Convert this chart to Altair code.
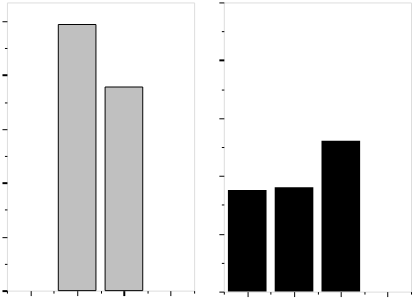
import altair as alt
import pandas as pd

# data
left_pos = [3, 5]
left_vals = [9.88, 7.56]
right_pos = [1, 3, 5]
right_vals = [3.51, 3.61, 5.22]
x_ticks = list(range(0, 9))
y_ticks = list(range(0, 11))

left_df = pd.DataFrame({"pos": left_pos, "val": left_vals})
right_df = pd.DataFrame({"pos": right_pos, "val": right_vals})


def make_axis(values, thick_test, long_test):
    return alt.Axis(
        values=values, labels=False, title=None, domain=False, grid=False,
        ticks=True, tickColor="black",
        tickSize={"condition": {"test": long_test, "value": 5}, "value": 2.5},
        tickWidth={"condition": {"test": thick_test, "value": 2}, "value": 1},
    )


left = alt.Chart(left_df).mark_bar(
    size=38, color="#c0c0c0", stroke="black", strokeWidth=1
).encode(
    x=alt.X("pos:Q", scale=alt.Scale(domain=[0, 8], nice=False, padding=0),
            axis=make_axis(x_ticks, "datum.value === 5", "datum.value % 2 === 1")),
    y=alt.Y("val:Q", scale=alt.Scale(domain=[0, 10.7], nice=False, padding=0),
            axis=make_axis(y_ticks, "datum.value % 4 === 0", "datum.value % 2 === 0")),
).properties(width=189, height=291)

right = alt.Chart(right_df).mark_bar(
    size=39, color="black"
).encode(
    x=alt.X("pos:Q", scale=alt.Scale(domain=[0, 8], nice=False, padding=0),
            axis=make_axis(x_ticks, "false", "datum.value % 2 === 1")),
    y=alt.Y("val:Q", scale=alt.Scale(domain=[0, 10.0], nice=False, padding=0),
            axis=make_axis(y_ticks, "datum.value === 8", "datum.value % 2 === 0")),
).properties(width=189, height=292)

chart = alt.hconcat(left, right, spacing=22).properties(
    padding={"left": 0, "top": 0, "right": 0, "bottom": 0}
).configure_view(stroke="black", strokeWidth=1).configure(background="white")

chart.save("out.html", embed_options={"renderer": "svg", "actions": False})
